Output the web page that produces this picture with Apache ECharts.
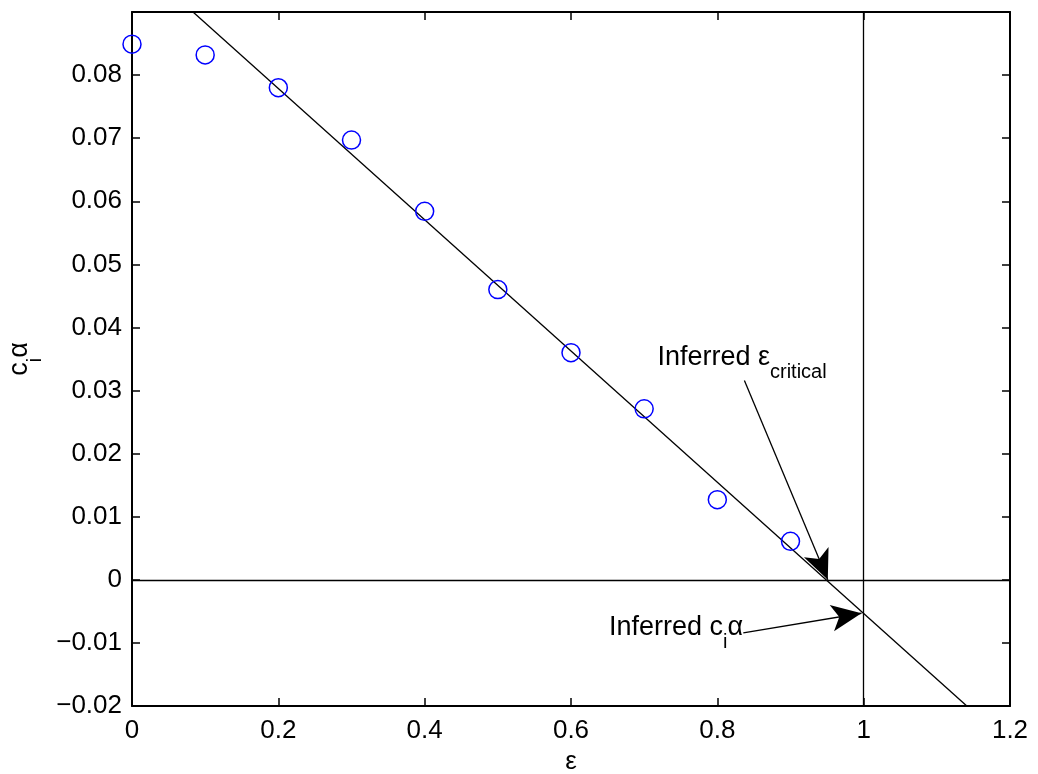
<!DOCTYPE html>
<html>
<head>
<meta charset="utf-8">
<script src="https://cdn.jsdelivr.net/npm/echarts@6/dist/echarts.min.js"></script>
<style>
html,body{margin:0;padding:0;background:#fff;}
#chart{width:1038px;height:774px;}
</style>
</head>
<body>
<div id="chart"></div>
<script>
// ---- data ----
const epsilon = [0, 0.1, 0.2, 0.3, 0.4, 0.5, 0.6, 0.7, 0.8, 0.9];
const ciAlpha = [0.0849, 0.0832, 0.0780, 0.0697, 0.0584, 0.0460, 0.0360, 0.0271, 0.0127, 0.0061];
const fitX = [0.0834, 1.141];
const fitY = [0.09, -0.02];
const refX = 1;      // vertical reference line
const refY = 0;      // horizontal reference line
const arrowCriticalFrom = [0.837, 0.0316];
const arrowCriticalTo = [0.951, 0.0];
const arrowCiFrom = [0.8355, -0.0084];
const arrowCiTo = [0.997, -0.0053];
const labelCriticalAt = [0.7181, 0.0374];
const labelCiAt = [0.6519, -0.0054];
const xRange = [0, 1.2], xStep = 0.2;
const yRange = [-0.02, 0.09], yStep = 0.01;
const hiddenYLabels = [0.09];

const FONT = '"Liberation Sans", Arial, Helvetica, sans-serif';
function fmt(v) {
  const n = Number(v.toFixed(4));
  if (hiddenYLabels.some(h => Math.abs(h - n) < 1e-9)) return '';
  return String(n).replace('-', '\u2212');
}

const chart = echarts.init(document.getElementById('chart'));
const frameLine = {show: true, onZero: false, lineStyle: {color: '#000', width: 2}};
const tickIn = {show: true, inside: true, length: 8, lineStyle: {color: '#000', width: 1.5}};
const mainLabel = {color: '#000', fontSize: 26, fontFamily: FONT};
const subRich = {
  a: {fontSize: 27, lineHeight: 30, fontFamily: FONT, color: '#000', verticalAlign: 'top'},
  s: {fontSize: 20, lineHeight: 30, fontFamily: FONT, color: '#000', verticalAlign: 'top', padding: [19, 0, 0, 0]}
};

chart.setOption({
  animation: false,
  backgroundColor: '#fff',
  grid: {left: 132, right: 28, top: 12, bottom: 68, containLabel: false, outerBoundsMode: 'none'},
  xAxis: [{
    type: 'value', min: xRange[0], max: xRange[1], interval: xStep,
    position: 'bottom',
    axisLine: frameLine, axisTick: tickIn, splitLine: {show: false},
    axisLabel: Object.assign({margin: 12, formatter: fmt}, mainLabel),
    name: '\u03b5', nameLocation: 'middle', nameGap: 36,
    nameTextStyle: {color: '#000', fontSize: 26, fontFamily: FONT}
  }, {
    type: 'value', min: xRange[0], max: xRange[1], interval: xStep,
    position: 'top',
    axisLine: frameLine, axisTick: tickIn, splitLine: {show: false},
    axisLabel: {show: false}
  }],
  yAxis: [{
    type: 'value', min: yRange[0], max: yRange[1], interval: yStep,
    position: 'left',
    axisLine: frameLine, axisTick: tickIn, splitLine: {show: false},
    axisLabel: Object.assign({margin: 10, formatter: fmt}, mainLabel),
    name: '{a|c}{s|i}{a|\u03b1}', nameLocation: 'middle', nameGap: 94, nameRotate: 90,
    nameTextStyle: {color: '#000', fontFamily: FONT, rich: subRich}
  }, {
    type: 'value', min: yRange[0], max: yRange[1], interval: yStep,
    position: 'right',
    axisLine: frameLine, axisTick: tickIn, splitLine: {show: false},
    axisLabel: {show: false}
  }],
  series: [{
    name: 'fit', type: 'line', data: fitX.map((x, i) => [x, fitY[i]]),
    symbol: 'none', lineStyle: {color: '#000', width: 1.3}, silent: true,
    markLine: {
      silent: true, symbol: ['none', 'none'], label: {show: false},
      lineStyle: {color: '#000', width: 1.3, type: 'solid'},
      data: [{xAxis: refX}, {yAxis: refY}]
    }
  }, {
    name: 'arrows', type: 'line', data: [],
    markLine: {
      silent: true, symbol: ['none', 'arrow'], symbolSize: [20, 30], label: {show: false},
      lineStyle: {color: '#000', width: 1.3, type: 'solid'},
      data: [
        [{coord: arrowCriticalFrom}, {coord: arrowCriticalTo}],
        [{coord: arrowCiFrom}, {coord: arrowCiTo}]
      ]
    }
  }, {
    name: 'data', type: 'scatter', data: epsilon.map((x, i) => [x, ciAlpha[i]]),
    symbol: 'circle', symbolSize: 18,
    itemStyle: {color: 'rgba(0,0,0,0)', borderColor: '#0000ff', borderWidth: 1.5, opacity: 1},
    z: 5
  }, {
    name: 'labels', type: 'scatter', symbolSize: 0, silent: true,
    data: [
      {value: labelCriticalAt, label: {formatter: '{a|Inferred \u03b5}{s|critical}'}},
      {value: labelCiAt, label: {formatter: '{a|Inferred c}{s|i}{a|\u03b1}'}}
    ],
    label: {
      show: true, position: [0, 0], align: 'left', verticalAlign: 'top',
      color: '#000', opacity: 1, rich: subRich
    }
  }]
});
</script>
</body>
</html>
